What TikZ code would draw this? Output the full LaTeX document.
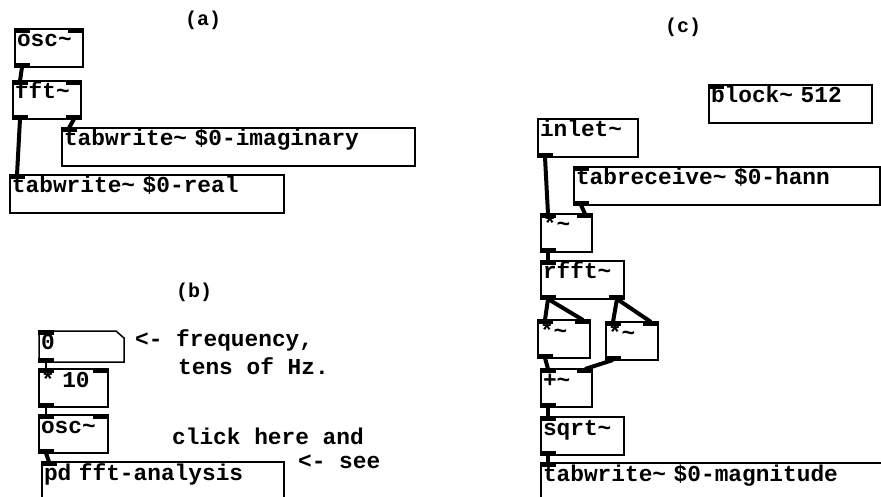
\documentclass[tikz,border=0pt]{standalone}
\usepackage{fontspec}
\setmonofont{Liberation Mono}

\begin{document}
\begin{tikzpicture}[x=1pt,y=-1pt,font=\ttfamily\bfseries\fontsize{22.8}{26}\selectfont]
  \tikzset{
    obj/.style={draw,line width=1.5pt,anchor=north west,outer sep=0pt,inner xsep=2pt,inner ysep=2pt,align=left,text width=#1,text height=16pt,text depth=18pt},
    numbox/.style={obj=#1,draw=none,text depth=11pt},
    note/.style={anchor=base west,inner sep=0pt},
    title/.style={anchor=base west,inner sep=0pt,font=\ttfamily\bfseries\fontsize{20}{22}\selectfont},
    sig/.style={line width=4pt},
    ctl/.style={line width=1.5pt}
  }
  \useasboundingbox (0,0) rectangle (881,497);
  % (a)
  \node[title] (labA) at (185,26) {(a)};
  \node[obj=64pt] (oscA) at (15,29) {osc\textasciitilde};
  \node[obj=64pt] (fftA) at (13,81) {fft\textasciitilde};
  \node[obj=349pt] (imagA) at (62,128) {tabwrite\textasciitilde{} \$0-imaginary};
  \node[obj=270pt] (realA) at (10,175) {tabwrite\textasciitilde{} \$0-real};
  % (b)
  \node[title] (labB) at (176,298) {(b)};
  \node[numbox=81pt] (numB) at (39,331) {0};
  \draw[line width=1.5pt] (numB.north west) -- ([xshift=-8pt]numB.north east) -- ([yshift=-7pt]numB.north east) -- (numB.south east) -- (numB.south west) -- cycle;
  \node[obj=65pt] (mulB) at (39,369) {* 10};
  \node[obj=65pt] (oscB) at (39,415) {osc\textasciitilde};
  \node[obj=238pt] (pdB) at (42,462) {pd fft-analysis};
  \node[note] (freqB) at (135,346) {<- frequency,};
  \node[note] (tensB) at (178,374) {tens of Hz.};
  \node[note] (clickB) at (172,444) {click here and};
  \node[note] (seeB) at (298,468) {<- see};
  % (c)
  \node[title] (labC) at (665,33) {(c)};
  \node[obj=159pt] (blockC) at (709,85) {block\textasciitilde{} 512};
  \node[obj=96pt] (inletC) at (538,119) {inlet\textasciitilde};
  \node[obj=302pt] (hannC) at (574,167) {tabreceive\textasciitilde{} \$0-hann};
  \node[obj=47pt] (mulC) at (541,214) {*\textasciitilde};
  \node[obj=79pt] (rfftC) at (541,261) {rfft\textasciitilde};
  \node[obj=48pt] (mulL) at (538,320) {*\textasciitilde};
  \node[obj=48pt] (mulR) at (606,322) {*\textasciitilde};
  \node[obj=47pt] (addC) at (541,369) {+\textasciitilde};
  \node[obj=79pt] (sqrtC) at (541,417) {sqrt\textasciitilde};
  \node[obj=341pt] (magC) at (541,463) {tabwrite\textasciitilde{} \$0-magnitude};
  % inlets and outlets
  \foreach \n in {oscA,fftA,imagA,realA,numB,mulB,oscB,pdB,blockC,hannC,mulC,rfftC,mulL,mulR,addC,sqrtC,magC}
    \fill (\n.north west) ++(-0.75,-0.75) rectangle ++(16,5);
  \foreach \n in {oscA,fftA,mulB,oscB,mulC,mulL,mulR,addC}
    \fill (\n.north east) ++(0.75,-0.75) rectangle ++(-16,5);
  \foreach \n in {oscA,fftA,numB,mulB,oscB,inletC,hannC,mulC,rfftC,mulL,mulR,addC,sqrtC}
    \fill (\n.south west) ++(-0.75,0.75) rectangle ++(16,-5);
  \foreach \n in {fftA,rfftC}
    \fill (\n.south east) ++(0.75,0.75) rectangle ++(-16,-5);
  % connections
  \foreach \a/\b in {oscA/fftA,fftA/realA,oscB/pdB,inletC/mulC,mulC/rfftC,rfftC/mulL,mulL/addC,addC/sqrtC,sqrtC/magC}
    \draw[sig] ([xshift=7pt]\a.south west) -- ([xshift=7pt]\b.north west);
  \foreach \a/\b in {fftA/imagA,rfftC/mulR}
    \draw[sig] ([xshift=-7pt]\a.south east) -- ([xshift=7pt]\b.north west);
  \foreach \a/\b in {hannC/mulC,rfftC/mulL,mulR/addC}
    \draw[sig] ([xshift=7pt]\a.south west) -- ([xshift=-7pt]\b.north east);
  \draw[sig] ([xshift=-7pt]rfftC.south east) -- ([xshift=-7pt]mulR.north east);
  \foreach \a/\b in {numB/mulB,mulB/oscB}
    \draw[ctl] ([xshift=7pt]\a.south west) -- ([xshift=7pt]\b.north west);
\end{tikzpicture}
\end{document}
